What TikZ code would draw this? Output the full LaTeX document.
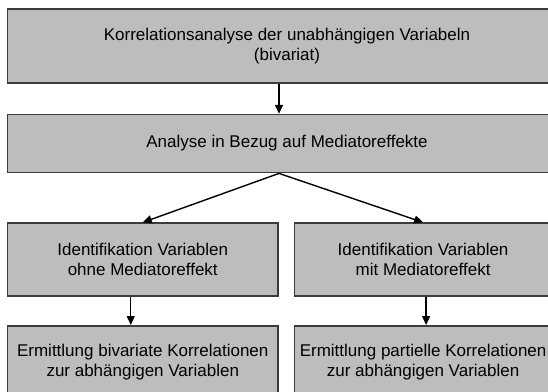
\documentclass[tikz,border=0pt]{standalone}
\usepackage{fontspec}
\setmainfont{Liberation Sans}
\usetikzlibrary{arrows.meta,positioning}
\definecolor{boxgray}{HTML}{BDBDBD}
\definecolor{edgegray}{HTML}{3C3C3C}
\tikzset{box/.style={draw=edgegray,fill=boxgray,line width=1.6pt,inner sep=0pt,
 align=center,font=\fontsize{17}{20}\selectfont,minimum height=73pt},
 arr/.style={-{Triangle[length=9pt,width=8pt]},line width=1.4pt,draw=black}}

\begin{document}
\begin{tikzpicture}[x=1pt,y=-1pt]
\useasboundingbox (0,0) rectangle (548,391);
\clip (0,0) rectangle (548,391);
\node[box,minimum width=559pt,minimum height=74pt] (corr) at (287,46) {Korrelationsanalyse der unabhängigen Variabeln\\(bivariat)};
\node[box,minimum width=559pt,minimum height=58pt,below=30pt of corr] (med) {Analyse in Bezug auf Mediatoreffekte};
\node[box,minimum width=270.5pt,below right=49pt and 0pt of med.south west] (ohne) {Identifikation Variablen\\ohne Mediatoreffekt};
\node[box,minimum width=257pt,right=15pt of ohne] (mit) {Identifikation Variablen\\mit Mediatoreffekt};
\node[box,minimum width=270.5pt,below=28pt of ohne] (biv) {Ermittlung bivariate Korrelationen\\zur abhängigen Variablen};
\node[box,minimum width=257pt,below=28pt of mit] (part) {Ermittlung partielle Korrelationen\\zur abhängigen Variablen};
\draw[arr] ([xshift=-8pt]corr.south)--([xshift=-8pt]med.north);
\draw[arr] ([xshift=-8pt]med.south)--(ohne.north);
\draw[arr] ([xshift=-8pt]med.south)--(mit.north);
\draw[arr] ([xshift=-12pt]ohne.south)--([xshift=-12pt]biv.north);
\draw[arr] ([xshift=3pt]mit.south)--([xshift=3pt]part.north);
\end{tikzpicture}
\end{document}
